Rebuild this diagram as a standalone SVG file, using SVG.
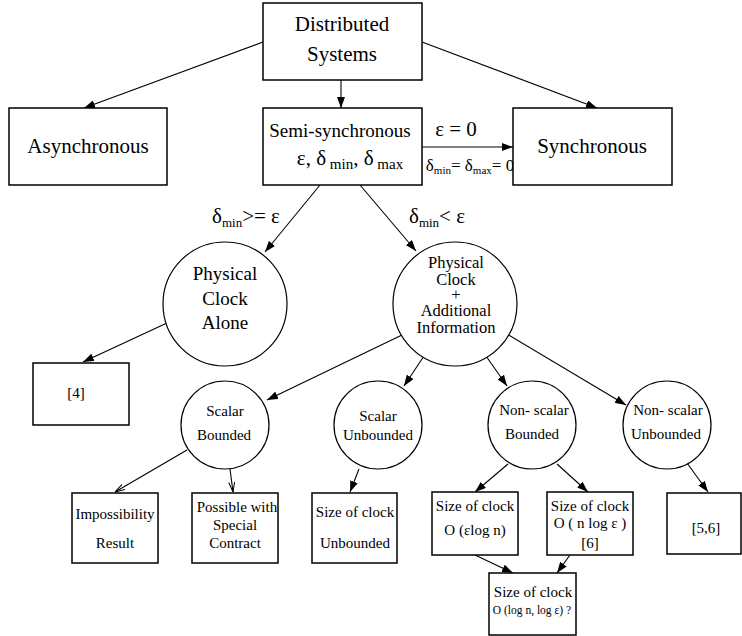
<svg xmlns="http://www.w3.org/2000/svg" width="742" height="636" viewBox="0 0 742 636">
<defs>
<marker id="ah" markerUnits="userSpaceOnUse" markerWidth="11" markerHeight="8" refX="11" refY="4" orient="auto"><path d="M0,0 L11,4 L0,8 z" fill="#000"/></marker>
<marker id="ahs" markerUnits="userSpaceOnUse" markerWidth="10" markerHeight="7" refX="10" refY="3.5" orient="auto"><path d="M0,0.5 L10,3.5 L0,6.5" fill="none" stroke="#000" stroke-width="1"/></marker>
</defs>
<style>
.box{fill:#fff;stroke:#000;stroke-width:1.5}
.circ{fill:#fff;stroke:#000;stroke-width:1.2}
.ln{fill:none;stroke:#000;stroke-width:1.1}
.t{fill:#000;text-anchor:middle}
.big{font-size:21px}
.med{font-size:19px}
.m17{font-size:16.5px}
.sm{font-size:15px}
.xs{font-size:11.5px}
</style>
<rect width="742" height="636" fill="#fff"/>
<g id="connectors">
<line class="ln" x1="341" y1="80" x2="341" y2="108" marker-end="url(#ah)"/>
<line class="ln" x1="263" y1="42" x2="84" y2="108" marker-end="url(#ah)"/>
<line class="ln" x1="422" y1="42" x2="597" y2="108" marker-end="url(#ah)"/>
<line class="ln" x1="422" y1="147" x2="513" y2="147" marker-end="url(#ah)"/>
<line class="ln" x1="320" y1="185" x2="265" y2="252" marker-end="url(#ah)"/>
<line class="ln" x1="360" y1="185" x2="416" y2="251" marker-end="url(#ah)"/>
<line class="ln" x1="167" y1="323" x2="83" y2="362" marker-end="url(#ah)"/>
<line class="ln" x1="402" y1="335" x2="267" y2="400" marker-end="url(#ah)"/>
<line class="ln" x1="424" y1="356" x2="404" y2="386" marker-end="url(#ah)"/>
<line class="ln" x1="486" y1="356" x2="507" y2="386" marker-end="url(#ah)"/>
<line class="ln" x1="507" y1="334" x2="626" y2="405" marker-end="url(#ah)"/>
<line class="ln" x1="187" y1="450" x2="115" y2="492" marker-end="url(#ahs)"/>
<line class="ln" x1="230" y1="469" x2="233" y2="492" marker-end="url(#ahs)"/>
<line class="ln" x1="359" y1="469" x2="350" y2="492" marker-end="url(#ah)"/>
<line class="ln" x1="508" y1="464" x2="475" y2="492" marker-end="url(#ah)"/>
<line class="ln" x1="557" y1="464" x2="588" y2="492" marker-end="url(#ah)"/>
<line class="ln" x1="687" y1="463" x2="708" y2="492" marker-end="url(#ah)"/>
<line class="ln" x1="475" y1="555" x2="513" y2="573" marker-end="url(#ah)"/>
<line class="ln" x1="570" y1="555" x2="557" y2="573" marker-end="url(#ah)"/>
</g>
<g id="labels">
<text class="t big" font-family="Liberation Serif" x="456" y="136">ε = 0</text>
<text class="t" font-family="Liberation Serif" x="470" y="171" font-size="17">δ<tspan font-size="11" dy="3">min</tspan><tspan dy="-3">= δ</tspan><tspan font-size="11" dy="3">max</tspan><tspan dy="-3">= 0</tspan></text>
<text class="t" font-family="Liberation Serif" x="246" y="223" font-size="21">δ<tspan font-size="13" dy="4">min</tspan><tspan dy="-4">&gt;= ε</tspan></text>
<text class="t" font-family="Liberation Serif" x="437" y="223" font-size="21">δ<tspan font-size="13" dy="4">min</tspan><tspan dy="-4">&lt; ε</tspan></text>
</g>
<g id="distributed">
<rect class="box" x="263" y="3" width="159" height="77"/>
<text class="t big" font-family="Liberation Serif" x="342" y="31">Distributed</text>
<text class="t big" font-family="Liberation Serif" x="342" y="61">Systems</text>
</g>
<g id="asynchronous">
<rect class="box" x="9" y="108" width="158" height="77"/>
<text class="t big" font-family="Liberation Serif" x="88" y="153">Asynchronous</text>
</g>
<g id="semisync">
<rect class="box" x="263" y="108" width="159" height="77"/>
<text class="t med" font-family="Liberation Serif" x="340" y="137">Semi-synchronous</text>
<text class="t" font-family="Liberation Serif" x="350" y="165" font-size="21">ε, δ<tspan font-size="15" dy="4"> min</tspan><tspan dy="-4">, δ</tspan><tspan font-size="15" dy="4"> max</tspan></text>
</g>
<g id="synchronous">
<rect class="box" x="513" y="108" width="159" height="77"/>
<text class="t big" font-family="Liberation Serif" x="592" y="153">Synchronous</text>
</g>
<g id="pc-alone">
<circle class="circ" cx="225" cy="304" r="62"/>
<text class="t med" font-family="Liberation Serif" x="225" y="280">Physical</text>
<text class="t med" font-family="Liberation Serif" x="225" y="305">Clock</text>
<text class="t med" font-family="Liberation Serif" x="225" y="329">Alone</text>
</g>
<g id="pc-additional">
<circle class="circ" cx="455" cy="304" r="62"/>
<text class="t m17" font-family="Liberation Serif" x="456" y="268">Physical</text>
<text class="t m17" font-family="Liberation Serif" x="456" y="285">Clock</text>
<text class="t m17" font-family="Liberation Serif" x="456" y="300">+</text>
<text class="t m17" font-family="Liberation Serif" x="456" y="316">Additional</text>
<text class="t m17" font-family="Liberation Serif" x="456" y="333">Information</text>
</g>
<g id="ref4">
<rect class="box" x="33" y="363" width="96" height="62"/>
<text class="t sm" font-family="Liberation Serif" x="76" y="398">[4]</text>
</g>
<g id="scalar-bounded">
<circle class="circ" cx="225" cy="425" r="44"/>
<text class="t sm" font-family="Liberation Serif" x="225" y="416">Scalar</text>
<text class="t sm" font-family="Liberation Serif" x="224" y="440">Bounded</text>
</g>
<g id="scalar-unbounded">
<circle class="circ" cx="378" cy="425" r="44"/>
<text class="t sm" font-family="Liberation Serif" x="378" y="421">Scalar</text>
<text class="t sm" font-family="Liberation Serif" x="378" y="440">Unbounded</text>
</g>
<g id="nonscalar-bounded">
<circle class="circ" cx="532" cy="425" r="44"/>
<text class="t sm" font-family="Liberation Serif" x="534" y="415">Non- scalar</text>
<text class="t sm" font-family="Liberation Serif" x="532" y="439">Bounded</text>
</g>
<g id="nonscalar-unbounded">
<circle class="circ" cx="667" cy="425" r="44"/>
<text class="t sm" font-family="Liberation Serif" x="668" y="415">Non- scalar</text>
<text class="t sm" font-family="Liberation Serif" x="666" y="439">Unbounded</text>
</g>
<g id="impossibility">
<rect class="box" x="72" y="493" width="86" height="70"/>
<text class="t sm" font-family="Liberation Serif" x="115" y="519">Impossibility</text>
<text class="t sm" font-family="Liberation Serif" x="115" y="548">Result</text>
</g>
<g id="possible">
<rect class="box" x="192" y="493" width="86" height="70"/>
<text class="t sm" font-family="Liberation Serif" x="237" y="512">Possible with</text>
<text class="t sm" font-family="Liberation Serif" x="235" y="530">Special</text>
<text class="t sm" font-family="Liberation Serif" x="235" y="548">Contract</text>
</g>
<g id="size-unbounded">
<rect class="box" x="312" y="493" width="85" height="70"/>
<text class="t sm" font-family="Liberation Serif" x="355" y="517">Size of clock</text>
<text class="t sm" font-family="Liberation Serif" x="355" y="548">Unbounded</text>
</g>
<g id="size-elogn">
<rect class="box" x="432" y="492" width="86" height="63"/>
<text class="t sm" font-family="Liberation Serif" x="475" y="511">Size of clock</text>
<text class="t sm" font-family="Liberation Serif" x="475" y="535">O (εlog n)</text>
</g>
<g id="size-nloge">
<rect class="box" x="547" y="492" width="86" height="63"/>
<text class="t sm" font-family="Liberation Serif" x="590" y="511">Size of clock</text>
<text class="t sm" font-family="Liberation Serif" x="590" y="528">O ( n log ε )</text>
<text class="t sm" font-family="Liberation Serif" x="590" y="548">[6]</text>
</g>
<g id="ref56">
<rect class="box" x="667" y="493" width="74" height="61"/>
<text class="t sm" font-family="Liberation Serif" x="706" y="533">[5,6]</text>
</g>
<g id="size-logn-loge">
<rect class="box" x="489" y="573" width="87" height="62"/>
<text class="t sm" font-family="Liberation Serif" x="533" y="597">Size of clock</text>
<text class="t xs" font-family="Liberation Serif" x="532" y="614">O (log n, log ε) ?</text>
</g>
</svg>
